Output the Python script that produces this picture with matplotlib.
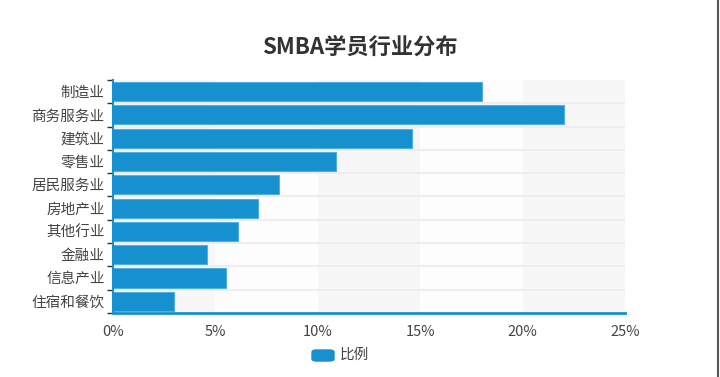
import matplotlib.pyplot as plt
from matplotlib.patches import FancyBboxPatch
from matplotlib.lines import Line2D
from matplotlib.ticker import FuncFormatter

plt.rcParams['font.family'] = ['Noto Sans CJK SC', 'DejaVu Sans']

industries = ['制造业', '商务服务业', '建筑业', '零售业', '居民服务业',
              '房地产业', '其他行业', '金融业', '信息产业', '住宿和餐饮']
share = [18.0, 22.0, 14.6, 10.9, 8.1, 7.1, 6.1, 4.6, 5.5, 3.0]
x_ticks = [0, 5, 10, 15, 20, 25]

BLUE = '#1790cf'

fig = plt.figure(figsize=(7.2, 3.77), dpi=100)
ax = fig.add_axes([0.157, 0.170, 0.711, 0.618])

# alternating vertical bands
for i in range(5):
    ax.axvspan(i * 5, i * 5 + 5, color='#f7f7f7' if i % 2 == 0 else '#fdfdfd', zorder=0, lw=0)

n = len(industries)
pos = list(range(n))[::-1]
# horizontal split lines between categories
for k in range(1, n):
    ax.axhline(k - 0.5, color='#ececec', lw=1.2, zorder=1)

ax.barh(pos, share, height=0.82, color=BLUE, edgecolor='#4fb0e0', lw=0.8, zorder=2)

ax.set_xlim(0, 25)
ax.set_ylim(-0.5, n - 0.5)
ax.set_xticks(x_ticks)
ax.xaxis.set_major_formatter(FuncFormatter(lambda v, p: '%d%%' % v))
ax.set_yticks(pos)
ax.set_yticklabels(industries)
ax.set_yticks([k - 0.5 for k in range(n + 1)], minor=True)

for s in ['top', 'right']:
    ax.spines[s].set_visible(False)
ax.spines['left'].set_color(BLUE)
ax.spines['left'].set_linewidth(1.5)
ax.spines['bottom'].set_color(BLUE)
ax.spines['bottom'].set_linewidth(2)

ax.tick_params(axis='x', length=0, pad=9, labelsize=10.5, labelcolor='#444444')
ax.tick_params(axis='y', which='major', length=0, pad=6, labelsize=10.5, labelcolor='#444444')
ax.tick_params(axis='y', which='minor', length=4, width=1, color='#333333')

fig.text(0.5, 0.875, 'SMBA学员行业分布', ha='center', va='center',
         fontsize=16, fontweight='bold', color='#333333')

# legend
fig.patches.append(FancyBboxPatch((312 / 720, 1 - 361 / 377), 22 / 720, 11 / 377,
                                  boxstyle='round,pad=0,rounding_size=0.006',
                                  transform=fig.transFigure, color=BLUE))
fig.text(340 / 720, 1 - 355 / 377, '比例', ha='left', va='center', fontsize=10.5, color='#444444')

# screenshot border on the right
fig.add_artist(Line2D([718 / 720, 718 / 720], [0, 1], transform=fig.transFigure,
                      color='#555555', lw=1.5))

fig.savefig('out.png', dpi=100)
